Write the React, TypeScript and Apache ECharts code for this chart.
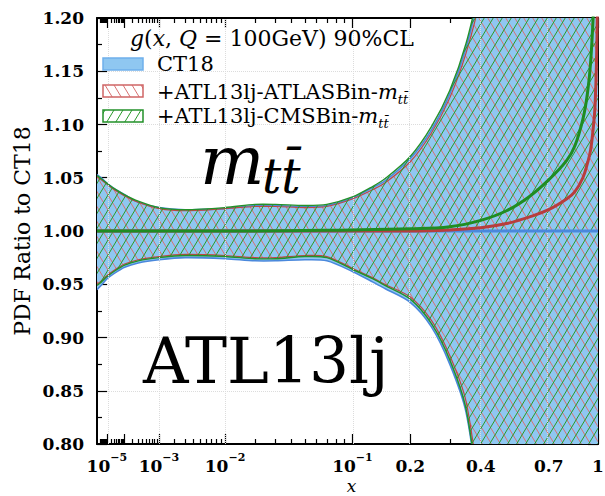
import React, { useEffect, useRef } from 'react';
import * as echarts from 'echarts';

// x-axis uses a power scale u = x^0.285
const EXP = 0.285;
const toU = (x: number) => Math.pow(x, EXP);

const X_MIN = 8e-7;
const X_MAX = 1;
const Y_MIN = 0.8;
const Y_MAX = 1.2;

// ---- band data (90% CL envelopes, ratio to CT18) ----
const bandX = [8e-7, 3e-6, 1e-5, 3e-5, 1e-4, 3e-4, 1e-3, 3e-3, 0.01, 0.02, 0.03, 0.05, 0.07, 0.1, 0.13, 0.15, 0.2, 0.25, 0.3, 0.35, 0.4, 0.5, 0.7, 1.0];

const ct18Upper = [1.053, 1.050, 1.045, 1.040, 1.034, 1.027, 1.022, 1.020, 1.021, 1.024, 1.024, 1.023, 1.024, 1.031, 1.041, 1.047, 1.068, 1.095, 1.129, 1.172, 1.23, 1.35, 1.6, 2.0];
const ct18Lower = [0.945, 0.949, 0.955, 0.960, 0.966, 0.970, 0.973, 0.975, 0.974, 0.972, 0.972, 0.973, 0.972, 0.962, 0.952, 0.946, 0.933, 0.910, 0.875, 0.830, 0.74, 0.6, 0.4, 0.0];

const atlasUpper = [1.051, 1.048, 1.044, 1.039, 1.033, 1.027, 1.021, 1.019, 1.021, 1.023, 1.023, 1.022, 1.023, 1.030, 1.039, 1.045, 1.065, 1.092, 1.125, 1.167, 1.22, 1.34, 1.6, 2.0];
const atlasLower = [0.950, 0.953, 0.958, 0.963, 0.969, 0.973, 0.976, 0.978, 0.977, 0.975, 0.975, 0.977, 0.976, 0.965, 0.956, 0.950, 0.938, 0.916, 0.883, 0.840, 0.75, 0.6, 0.4, 0.0];

const cmsUpper = [1.052, 1.049, 1.045, 1.040, 1.034, 1.028, 1.022, 1.020, 1.022, 1.025, 1.025, 1.024, 1.025, 1.032, 1.042, 1.049, 1.070, 1.098, 1.132, 1.176, 1.235, 1.36, 1.6, 2.0];
const cmsLower = [0.949, 0.952, 0.957, 0.962, 0.968, 0.972, 0.975, 0.977, 0.976, 0.974, 0.974, 0.976, 0.975, 0.964, 0.955, 0.949, 0.936, 0.913, 0.879, 0.833, 0.74, 0.6, 0.4, 0.0];

// ---- central values ----
const centralX = [8e-7, 0.01, 0.1, 0.2, 0.3, 0.4, 0.5, 0.6, 0.7, 0.8, 0.85, 0.9, 0.93, 0.95, 0.97, 0.98, 0.99, 1.0];
const ct18Central = [1, 1, 1, 1, 1, 1, 1, 1, 1, 1, 1, 1, 1, 1, 1, 1, 1, 1];
const atlasCentral = [1.000, 1.000, 1.000, 1.000, 1.001, 1.003, 1.007, 1.013, 1.020, 1.030, 1.037, 1.050, 1.064, 1.076, 1.100, 1.118, 1.16, 1.25];
const cmsCentral = [1.000, 1.000, 1.001, 1.002, 1.004, 1.010, 1.019, 1.032, 1.048, 1.066, 1.080, 1.105, 1.130, 1.158, 1.21, 1.26, 1.35, 1.45];

// ---- axis ticks / labels ----
const xMajorTicks = [1e-5, 1e-4, 1e-3, 1e-2, 0.1, 0.2, 0.4, 0.7, 1];
const xDecades = [1e-6, 1e-5, 1e-4, 1e-3, 1e-2];
const xDecadeMultipliers = [2, 3, 4, 5, 6, 7, 8, 9];
const xUpperMinorTicks = [0.3, 0.5, 0.6, 0.8, 0.9];
const xLabelValues = [1e-5, 1e-3, 1e-2, 0.1, 0.2, 0.4, 0.7, 1];
const xLabelTexts = ['{b|10}{s|\u22125}', '{b|10}{s|\u22123}', '{b|10}{s|\u22122}', '{b|10}{s|\u22121}', '{b|0.2}', '{b|0.4}', '{b|0.7}', '{b|1}'];
const xGridValues = [1e-5, 1e-3, 1e-2, 0.1, 0.2, 0.4, 0.7];
const Y_INTERVAL = 0.05;

const legendTitle = '{i|g}{r|(}{i|x}{r|, }{i|Q}{r| = 100GeV) 90%CL}';
const legendLabels = ['CT18', '+ATL13lj-ATLASBin-', '+ATL13lj-CMSBin-'];

const SERIF = 'DejaVu Serif';

const BLUE_FILL = '#8fc7f1';
const BLUE_EDGE = '#4a88dc';
const RED_EDGE = '#c04646';
const RED_HATCH = '#d77272';
const GREEN_EDGE = '#23912a';
const GREEN_HATCH = '#2a9a2a';

function makeHatch(color: string, forward: boolean, bg?: string) {
  const w = 9;
  const h = 15;
  const c = document.createElement('canvas');
  c.width = w;
  c.height = h;
  const ctx = c.getContext('2d')!;
  if (bg) {
    ctx.fillStyle = bg;
    ctx.fillRect(0, 0, w, h);
  }
  ctx.strokeStyle = color;
  ctx.lineWidth = 1.0;
  ctx.beginPath();
  for (let k = -1; k <= 1; k++) {
    if (forward) {
      ctx.moveTo(k * w, h);
      ctx.lineTo(k * w + w, 0);
    } else {
      ctx.moveTo(k * w, 0);
      ctx.lineTo(k * w + w, h);
    }
  }
  ctx.stroke();
  return { image: c, repeat: 'repeat', imageWidth: w, imageHeight: h } as any;
}

function bandSeries(name: string, lo: number[], hi: number[], fill: any, edge: string, edgeWidth: number, z: number) {
  return {
    type: 'custom',
    name,
    clip: true,
    silent: true,
    z,
    xAxisIndex: 0,
    yAxisIndex: 0,
    data: [[toU(bandX[0]), lo[0]]],
    renderItem: (params: any, api: any) => {
      const up = bandX.map((x, i) => api.coord([toU(x), hi[i]]));
      const dn = bandX.map((x, i) => api.coord([toU(x), lo[i]]));
      const poly = up.concat(dn.slice().reverse());
      return {
        type: 'group',
        children: [
          { type: 'polygon', shape: { points: poly, smooth: 0.3 }, style: { fill, stroke: null } },
          { type: 'polyline', shape: { points: up, smooth: 0.3 }, style: { fill: null, stroke: edge, lineWidth: edgeWidth } },
          { type: 'polyline', shape: { points: dn, smooth: 0.3 }, style: { fill: null, stroke: edge, lineWidth: edgeWidth } },
        ],
      };
    },
  };
}

function centralSeries(name: string, vals: number[], color: string, z: number) {
  return {
    type: 'line',
    name,
    z,
    silent: true,
    showSymbol: false,
    smooth: 0.4,
    clip: true,
    lineStyle: { color, width: 3 },
    data: centralX.map((x, i) => [toU(x), vals[i]]),
  };
}

export default function App() {
  const ref = useRef<HTMLDivElement>(null);

  useEffect(() => {
    const chart = echarts.init(ref.current!, null, { renderer: 'svg' });

    const uMin = toU(X_MIN);
    const uMax = toU(X_MAX);
    const majorU = xMajorTicks.map(toU);
    const minorU: number[] = [];
    xDecades.forEach((d) => xDecadeMultipliers.forEach((m) => minorU.push(toU(d * m))));
    xUpperMinorTicks.forEach((x) => minorU.push(toU(x)));
    const labelU = xLabelValues.map(toU);

    const xLabelFormatter = (v: number) => {
      let best = 0;
      let bd = Infinity;
      labelU.forEach((u, i) => {
        const d = Math.abs(u - v);
        if (d < bd) {
          bd = d;
          best = i;
        }
      });
      return xLabelTexts[best];
    };

    const tickStyle = { color: '#000', width: 1.2 };
    const axisLineStyle = { color: '#000', width: 2 };

    const baseX = {
      type: 'value',
      min: uMin,
      max: uMax,
      gridIndex: 0,
      splitLine: { show: false },
    };

    const hatchRed = makeHatch(RED_HATCH, false);
    const hatchGreen = makeHatch(GREEN_HATCH, true);
    const hatchRedLegend = makeHatch(RED_HATCH, false, '#ffffff');
    const hatchGreenLegend = makeHatch(GREEN_HATCH, true, '#ffffff');

    const legendRich = {
      r: { fontFamily: SERIF, fontSize: 21, lineHeight: 21, verticalAlign: 'top', fill: '#000' },
      m: { fontFamily: SERIF, fontSize: 21, fontStyle: 'italic', lineHeight: 21, verticalAlign: 'top', fill: '#000' },
      s: { fontFamily: SERIF, fontSize: 13, fontStyle: 'italic', lineHeight: 13, verticalAlign: 'top', padding: [11, 0, 0, 0], fill: '#000' },
    };

    const option: any = {
      animation: false,
      backgroundColor: '#ffffff',
      grid: { left: 97, right: 7, top: 18, bottom: 52, containLabel: false, outerBoundsMode: 'none' },
      xAxis: [
        {
          ...baseX,
          position: 'bottom',
          axisLine: { show: true, lineStyle: axisLineStyle },
          axisTick: { show: true, inside: true, length: 10, customValues: majorU, lineStyle: tickStyle },
          axisLabel: {
            show: true,
            customValues: labelU,
            formatter: xLabelFormatter,
            margin: 8,
            color: '#000',
            rich: {
              b: { fontFamily: SERIF, fontWeight: 'bold', fontSize: 17, padding: [5, 0, 0, 0], verticalAlign: 'bottom', color: '#000' },
              s: { fontFamily: SERIF, fontWeight: 'bold', fontSize: 11, verticalAlign: 'top', color: '#000' },
            },
          },
          name: 'x',
          nameLocation: 'middle',
          nameGap: 33,
          nameMoveOverlap: false,
          nameTextStyle: { fontFamily: SERIF, fontStyle: 'italic', fontSize: 17, lineHeight: 17, padding: [0, 0, 0, 8], color: '#000' },
        },
        {
          ...baseX,
          position: 'bottom',
          axisLine: { show: false },
          axisTick: { show: true, inside: true, length: 5, customValues: minorU, lineStyle: tickStyle },
          axisLabel: { show: false },
        },
        {
          ...baseX,
          position: 'top',
          axisLine: { show: true, lineStyle: axisLineStyle },
          axisTick: { show: true, inside: true, length: 10, customValues: majorU, lineStyle: tickStyle },
          axisLabel: { show: false },
        },
        {
          ...baseX,
          position: 'top',
          axisLine: { show: false },
          axisTick: { show: true, inside: true, length: 5, customValues: minorU, lineStyle: tickStyle },
          axisLabel: { show: false },
        },
      ],
      yAxis: [
        {
          type: 'value',
          min: Y_MIN,
          max: Y_MAX,
          interval: Y_INTERVAL,
          position: 'left',
          axisLine: { show: true, lineStyle: axisLineStyle },
          axisTick: { show: true, inside: true, length: 10, lineStyle: tickStyle },
          minorTick: { show: true, splitNumber: 2, length: 5, lineStyle: tickStyle },
          splitLine: { show: true, lineStyle: { color: '#dcdcdc', type: 'dotted', width: 1 } },
          axisLabel: {
            formatter: (v: number) => v.toFixed(2),
            margin: 13,
            fontFamily: SERIF,
            fontWeight: 'bold',
            fontSize: 17,
            color: '#000',
          },
          name: 'PDF Ratio to CT18',
          nameLocation: 'middle',
          nameGap: 64,
          nameMoveOverlap: false,
          nameTextStyle: { fontFamily: SERIF, fontSize: 22, color: '#000' },
        },
        {
          type: 'value',
          min: Y_MIN,
          max: Y_MAX,
          interval: Y_INTERVAL,
          position: 'right',
          axisLine: { show: true, lineStyle: axisLineStyle },
          axisTick: { show: true, inside: true, length: 10, lineStyle: tickStyle },
          minorTick: { show: true, splitNumber: 2, length: 5, lineStyle: tickStyle },
          splitLine: { show: false },
          axisLabel: { show: false },
        },
      ],
      series: [
        {
          type: 'line',
          name: 'grid',
          data: [],
          silent: true,
          z: 1,
          markLine: {
            silent: true,
            symbol: ['none', 'none'],
            label: { show: false },
            lineStyle: { color: '#dcdcdc', type: 'dotted', width: 1 },
            data: xGridValues.map((x) => ({ xAxis: toU(x) })),
          },
        },
        bandSeries('CT18', ct18Lower, ct18Upper, BLUE_FILL, BLUE_EDGE, 1.6, 2),
        bandSeries('ATLASBin', atlasLower, atlasUpper, hatchRed, RED_EDGE, 1.2, 3),
        bandSeries('CMSBin', cmsLower, cmsUpper, hatchGreen, GREEN_EDGE, 1.4, 4),
        centralSeries('CT18 central', ct18Central, BLUE_EDGE, 5),
        centralSeries('ATLASBin central', atlasCentral, '#b83d3d', 6),
        centralSeries('CMSBin central', cmsCentral, '#1f8d22', 7),
      ],
      graphic: [
        {
          type: 'text',
          x: 130,
          y: 38,
          z: 100,
          style: {
            text: legendTitle,
            align: 'left',
            verticalAlign: 'middle',
            fontFamily: SERIF,
            fontSize: 22,
            fill: '#000',
            rich: {
              i: { fontFamily: SERIF, fontSize: 22, fontStyle: 'italic', fill: '#000' },
              r: { fontFamily: SERIF, fontSize: 22, fill: '#000' },
            },
          },
        },
        { type: 'rect', z: 100, shape: { x: 103, y: 58, width: 40, height: 12 }, style: { fill: BLUE_FILL, stroke: '#6fb0ec', lineWidth: 1.5 } },
        { type: 'rect', z: 100, shape: { x: 103, y: 85, width: 40, height: 12 }, style: { fill: hatchRedLegend, stroke: '#d06565', lineWidth: 1.5 } },
        { type: 'rect', z: 100, shape: { x: 103, y: 110, width: 40, height: 12 }, style: { fill: hatchGreenLegend, stroke: GREEN_EDGE, lineWidth: 1.5 } },
        {
          type: 'text',
          x: 157,
          y: 64,
          z: 100,
          style: { text: legendLabels[0], align: 'left', verticalAlign: 'middle', fontFamily: SERIF, fontSize: 21, fill: '#000' },
        },
        {
          type: 'text',
          x: 157,
          y: 92,
          z: 100,
          style: {
            text: '{r|' + legendLabels[1] + '}{m|m}{s|tt\u0304}',
            align: 'left',
            verticalAlign: 'middle',
            fontFamily: SERIF,
            fontSize: 21,
            fill: '#000',
            rich: legendRich,
          },
        },
        {
          type: 'text',
          x: 157,
          y: 116,
          z: 100,
          style: {
            text: '{r|' + legendLabels[2] + '}{m|m}{s|tt\u0304}',
            align: 'left',
            verticalAlign: 'middle',
            fontFamily: SERIF,
            fontSize: 21,
            fill: '#000',
            rich: legendRich,
          },
        },
        {
          type: 'text',
          x: 200,
          y: 160,
          z: 100,
          style: { text: 'm', align: 'left', verticalAlign: 'middle', fontFamily: SERIF, fontStyle: 'italic', fontSize: 68, lineHeight: 40, fill: '#000' },
        },
        {
          type: 'text',
          x: 262,
          y: 176,
          z: 100,
          style: { text: 'tt\u0304', align: 'left', verticalAlign: 'middle', fontFamily: SERIF, fontStyle: 'italic', fontSize: 48, lineHeight: 36, fill: '#000' },
        },
        {
          type: 'text',
          x: 143,
          y: 361,
          z: 100,
          style: { text: 'ATL13lj', align: 'left', verticalAlign: 'middle', fontFamily: SERIF, fontSize: 63, lineHeight: 52, fill: '#000' },
        },
      ],
    };

    chart.setOption(option);
    return () => chart.dispose();
  }, []);

  return <div ref={ref} style={{ position: 'fixed', left: 0, top: 0, width: 605, height: 496 }} />;
}
